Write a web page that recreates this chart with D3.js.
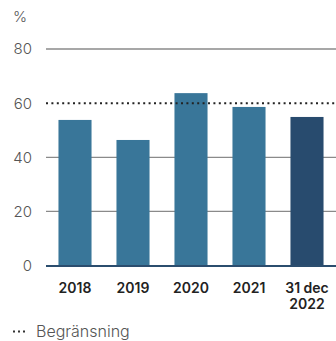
<!DOCTYPE html>
<html><head><meta charset="utf-8">
<script src="https://cdn.jsdelivr.net/npm/d3@7"></script>
<style>body{margin:0;background:#fff;}svg{display:block;font-family:Inter,"Noto Sans",sans-serif;}</style>
</head><body>
<svg id="c" width="336" height="341"></svg>
<script>
const categories = ["2018","2019","2020","2021","31 dec\n2022"];
const values = [53.8, 46.4, 63.7, 58.6, 54.9];
const yTicks = [0,20,40,60,80];
const limitValue = 60;
const legendLabel = "Begränsning";
const unitLabel = "%";

const svg = d3.select("#c");
const x = d3.scaleBand().domain(categories).range([46,336]).paddingInner(0.43).paddingOuter(0.215);
const y = d3.scaleLinear().domain([0,80]).range([265.6,49]);

// gridlines
svg.append("g").selectAll("line").data(yTicks.filter(d=>d!==0 && d!==limitValue)).join("line")
  .attr("x1",46).attr("x2",336).attr("y1",d=>y(d)).attr("y2",d=>y(d))
  .attr("stroke","#8a8a8a").attr("stroke-width",1.3);

// y labels
svg.append("g").selectAll("text").data(yTicks).join("text")
  .attr("x",32).attr("y",d=>y(d)).attr("dy","0.36em").attr("text-anchor","end")
  .attr("font-size",15).attr("fill","#555").attr("font-weight",300).text(d=>d);
svg.append("text").attr("x",13).attr("y",22).attr("font-size",15).attr("fill","#555").attr("font-weight",300).text(unitLabel);

// bars
svg.append("g").selectAll("rect").data(values).join("rect")
  .attr("x",(d,i)=>x(categories[i])).attr("width",x.bandwidth())
  .attr("y",d=>y(d)).attr("height",d=>y(0)-y(d))
  .attr("fill",(d,i)=>i===values.length-1?"#284b6e":"#397699");

// baseline
svg.append("line").attr("x1",46).attr("x2",336).attr("y1",y(0)+0.4).attr("y2",y(0)+0.4)
  .attr("stroke","#2b4d6e").attr("stroke-width",2);

// limit line
svg.append("line").attr("x1",46).attr("x2",336).attr("y1",y(limitValue)).attr("y2",y(limitValue))
  .attr("stroke","#222").attr("stroke-width",2).attr("stroke-dasharray","2,3.4");

// x labels
const xl = svg.append("g").selectAll("text").data(categories).join("text")
  .attr("text-anchor","middle").attr("font-size",14).attr("font-weight",600).attr("fill","#222")
  .attr("transform",d=>`translate(${x(d)+x.bandwidth()/2},0)`);
xl.each(function(d){
  const lines = d.split("\n");
  d3.select(this).selectAll("tspan").data(lines).join("tspan")
    .attr("x",0).attr("y",(l,i)=>293+i*16).text(l=>l);
});

// legend
svg.append("line").attr("x1",13).attr("x2",25).attr("y1",331.5).attr("y2",331.5)
  .attr("stroke","#333").attr("stroke-width",2).attr("stroke-dasharray","2,3");
svg.append("text").attr("x",36).attr("y",336.5).attr("font-size",16).attr("fill","#555").attr("font-weight",300).text(legendLabel);
</script>
</body></html>
